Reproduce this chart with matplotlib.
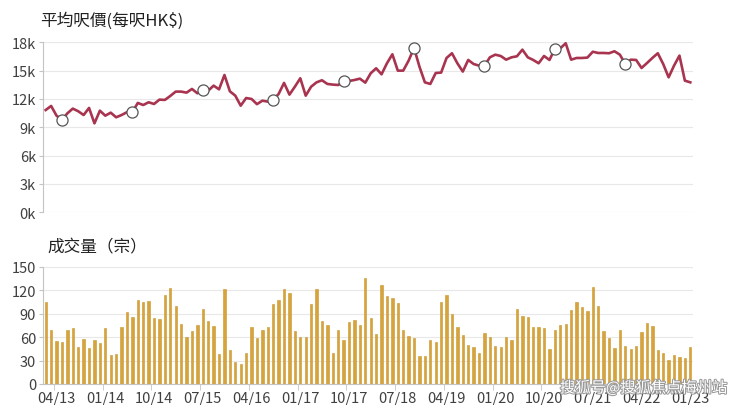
import matplotlib
matplotlib.use("Agg")
import matplotlib.pyplot as plt
import matplotlib.patheffects as pe
import numpy as np
import pandas as pd

plt.rcParams["font.family"] = ["Noto Sans CJK TC", "DejaVu Sans"]

# monthly categories, 02/13 .. 01/23
months = pd.period_range("2013-02", periods=120, freq="M")
month_labels = [m.strftime("%m/%y") for m in months]

# average price per sq ft, thousands of HK$
price_k = [
    10.83, 11.26, 10.23, 9.78, 10.48, 10.98, 10.70, 10.30, 11.05, 9.42,
    10.76, 10.23, 10.55, 10.06, 10.30, 10.60, 10.60, 11.58, 11.36, 11.65,
    11.47, 11.93, 11.90, 12.32, 12.78, 12.78, 12.67, 13.06, 12.60, 12.95,
    12.88, 13.41, 13.02, 14.54, 12.81, 12.35, 11.29, 12.10, 12.00, 11.45,
    11.82, 11.72, 11.90, 12.53, 13.70, 12.46, 13.30, 14.19, 12.35, 13.30,
    13.76, 13.98, 13.59, 13.52, 13.48, 13.87, 13.90, 14.01, 14.15, 13.73,
    14.72, 15.25, 14.61, 15.78, 16.73, 15.00, 15.00, 16.06, 17.40, 15.42,
    13.76, 13.59, 14.75, 14.79, 16.34, 16.84, 15.78, 14.90, 16.13, 15.70,
    15.53, 15.50, 16.41, 16.69, 16.55, 16.16, 16.41, 16.52, 17.22, 16.41,
    16.13, 15.78, 16.55, 16.13, 17.30, 17.36, 17.90, 16.16, 16.34, 16.34,
    16.38, 17.00, 16.87, 16.87, 16.84, 17.05, 16.69, 15.70, 16.16, 16.13,
    15.28, 15.80, 16.34, 16.84, 15.70, 14.29, 15.53, 16.59, 13.94, 13.76,
]

# number of transactions
volume = [
    105, 69, 55, 54, 69, 72, 47, 57, 46, 56, 52, 72, 37, 39, 73, 92, 86, 107, 105, 106,
    84, 83, 114, 123, 100, 77, 60, 68, 75, 96, 81, 74, 38, 121, 44, 28, 26, 40, 73, 59,
    69, 73, 102, 107, 122, 117, 68, 60, 60, 102, 121, 80, 76, 40, 69, 56, 79, 82, 76, 135,
    85, 64, 126, 112, 110, 104, 69, 62, 59, 36, 36, 56, 54, 105, 114, 89, 73, 63, 50, 47,
    40, 65, 60, 48, 47, 60, 56, 96, 87, 86, 73, 73, 71, 45, 69, 76, 77, 94, 105, 99,
    93, 124, 100, 68, 59, 46, 69, 48, 45, 48, 67, 78, 74, 44, 40, 31, 37, 34, 33, 47,
]

price_ticks = [0, 3, 6, 9, 12, 15, 18]
volume_ticks = [0, 30, 60, 90, 120, 150]

LINE_COLOR = "#a8344f"
BAR_COLOR = "#d6a43a"
GRID_COLOR = "#e8e8e8"
AXIS_COLOR = "#c4c4c4"
TEXT_COLOR = "#404040"


def style_axis(ax, ticks, labels):
    ax.set_yticks(ticks)
    ax.set_yticklabels(labels)
    ax.set_ylim(ticks[0], ticks[-1])
    ax.set_xlim(-0.5, len(months) - 0.5)
    ax.grid(axis="y", color=GRID_COLOR, linewidth=0.8)
    ax.set_axisbelow(True)
    for side in ["top", "right"]:
        ax.spines[side].set_visible(False)
    ax.spines["left"].set_color(AXIS_COLOR)
    ax.spines["bottom"].set_color(AXIS_COLOR)
    ax.tick_params(axis="y", length=3, color=AXIS_COLOR, labelsize=10.5, labelcolor=TEXT_COLOR, pad=2)


fig = plt.figure(figsize=(7.4, 4.06), dpi=100)
ax_top = fig.add_axes([43 / 740, 1 - 213.3 / 406, 650 / 740, 170 / 406])
ax_bot = fig.add_axes([43 / 740, 1 - 385 / 406, 650 / 740, 117.3 / 406])

x = np.arange(len(months))

ax_top.plot(x, price_k, color=LINE_COLOR, linewidth=1.9, zorder=3,
            marker="o", markevery=(3, 13), markersize=8,
            markerfacecolor="white", markeredgecolor="#555555", markeredgewidth=0.9)
style_axis(ax_top, price_ticks, [f"{t}k" for t in price_ticks])
ax_top.spines["bottom"].set_visible(False)
ax_top.tick_params(axis="x", bottom=False, labelbottom=False)

ax_bot.bar(x, volume, width=0.42, color=BAR_COLOR, edgecolor="#c9952c", linewidth=0.4)
style_axis(ax_bot, volume_ticks, [str(t) for t in volume_ticks])
label_pos = x[2::9]
ax_bot.set_xticks(label_pos)
ax_bot.set_xticklabels([month_labels[i] for i in label_pos])
ax_bot.set_xticks(label_pos - 0.5, minor=True)
ax_bot.tick_params(axis="x", which="major", length=0, labelsize=10.5, labelcolor=TEXT_COLOR, pad=5)
ax_bot.tick_params(axis="x", which="minor", length=4, color=AXIS_COLOR)

fig.text(40 / 740, 1 - 21 / 406, "平均呎價(每呎HK$)", fontsize=12, color="#222222", va="center")
fig.text(47 / 740, 1 - 248 / 406, "成交量（宗）", fontsize=12, color="#222222", va="center")

fig.text(560 / 740, 1 - 389 / 406, "搜狐号@搜狐焦点梅州站", fontsize=11, color="white", va="center",
         path_effects=[pe.withStroke(linewidth=1.5, foreground="#9a9a9a")])

fig.savefig("out.png", dpi=100)
